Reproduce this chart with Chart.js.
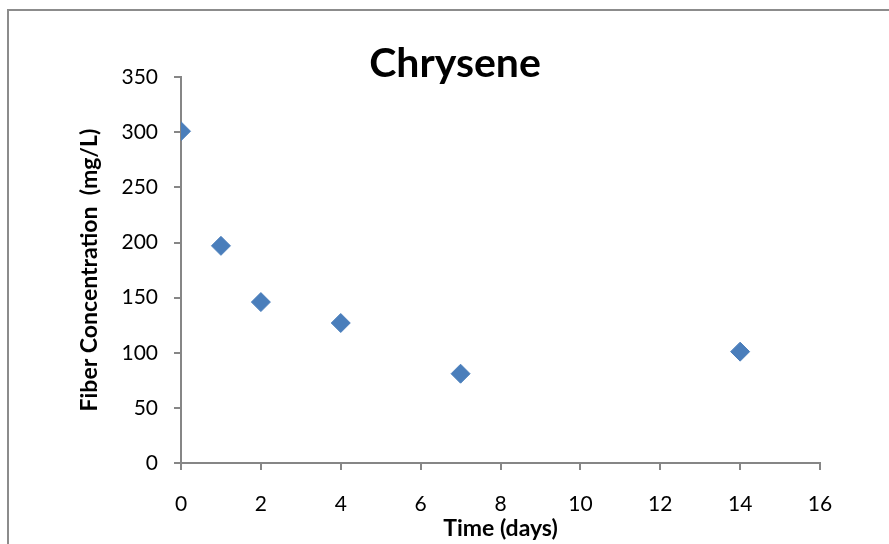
<!DOCTYPE html>
<html>
<head>
<meta charset="utf-8">
<script src="https://cdn.jsdelivr.net/npm/chart.js@4/dist/chart.umd.min.js"></script>
<style>
  html, body { margin: 0; padding: 0; background: #ffffff; overflow: hidden; }
  body { width: 889px; height: 544px; position: relative; }
  /* outer chart frame, only left and top edges fall inside the window */
  .frame {
    position: absolute; left: 7px; top: 9px;
    width: 1000px; height: 1000px;
    border: 2px solid #8c8c8c;
  }
  .wrap { position: absolute; left: 0; top: 0; width: 910px; height: 544px; }
</style>
</head>
<body>
<div class="frame"></div>
<div class="wrap"><canvas id="chrysene" width="910" height="544"></canvas></div>
<script>
    // sampling days and measured concentration
    const days = [0, 1, 2, 4, 7, 14];
    const conc = [301, 197, 146, 127, 81, 101];

    const xTicks = [0, 2, 4, 6, 8, 10, 12, 14, 16];
    const yTicks = [0, 50, 100, 150, 200, 250, 300, 350];

    const axisGray = '#868686';
    const markerBlue = '#4A7EBB';

    let points = days.map((d, i) => ({x: d, y: conc[i]}));

    const ctx = document.getElementById('chrysene');
    const chart = new Chart(ctx, {
        type: 'scatter',
        data: {
            datasets: [{
                label: 'Chrysene',
                data: points,
                pointStyle: 'rectRot',
                pointRadius: 9.5,
                pointHoverRadius: 9.5,
                backgroundColor: markerBlue,
                borderColor: markerBlue,
                borderWidth: 1
            }]
        },
        options: {
            responsive: false,
            animation: false,
            // left/right padding equal so the title sits between them
            layout: { padding: { left: 90, right: 90, top: 0, bottom: 0 } },
            plugins: {
                legend: { display: false },
                tooltip: { enabled: false },
                title: {
                    display: true,
                    text: 'Chrysene',
                    color: '#000000',
                    font: { family: 'Lato', size: 41, weight: 'bold', lineHeight: 1.2 },
                    padding: { top: 39, bottom: -11 }
                }
            },
            scales: {
                x: {
                    type: 'linear',
                    min: xTicks[0],
                    max: xTicks[xTicks.length - 1],
                    afterFit: (scale) => { scale.height = 81; },
                    afterBuildTicks: (scale) => { scale.ticks = xTicks.map(v => ({value: v})); },
                    ticks: {
                        color: '#000000',
                        padding: 22,
                        font: { family: 'Lato', size: 21 }
                    },
                    grid: {
                        drawOnChartArea: false,
                        tickLength: 7,
                        tickColor: axisGray,
                        lineWidth: 2
                    },
                    border: { color: axisGray, width: 2 },
                    title: {
                        display: true,
                        text: 'Time (days)',
                        color: '#000000',
                        font: { family: 'Lato', size: 23, weight: 'bold', lineHeight: 1.2 },
                        padding: { top: 0, bottom: 2 }
                    }
                },
                y: {
                    type: 'linear',
                    min: yTicks[0],
                    max: yTicks[yTicks.length - 1],
                    afterFit: (scale) => { scale.width = 91; },
                    afterBuildTicks: (scale) => { scale.ticks = yTicks.map(v => ({value: v})); },
                    ticks: {
                        color: '#000000',
                        padding: 16,
                        font: { family: 'Lato', size: 21 }
                    },
                    grid: {
                        drawOnChartArea: false,
                        tickLength: 7,
                        tickColor: axisGray,
                        lineWidth: 2
                    },
                    border: { color: axisGray, width: 2 },
                    title: {
                        display: true,
                        text: 'Fiber Concentration  (mg/L)',
                        color: '#000000',
                        font: { family: 'Lato', size: 23, weight: 'bold', lineHeight: 1.2 },
                        padding: { top: -14, bottom: 0 }
                    }
                }
            }
        }
    });
</script>
</body>
</html>
